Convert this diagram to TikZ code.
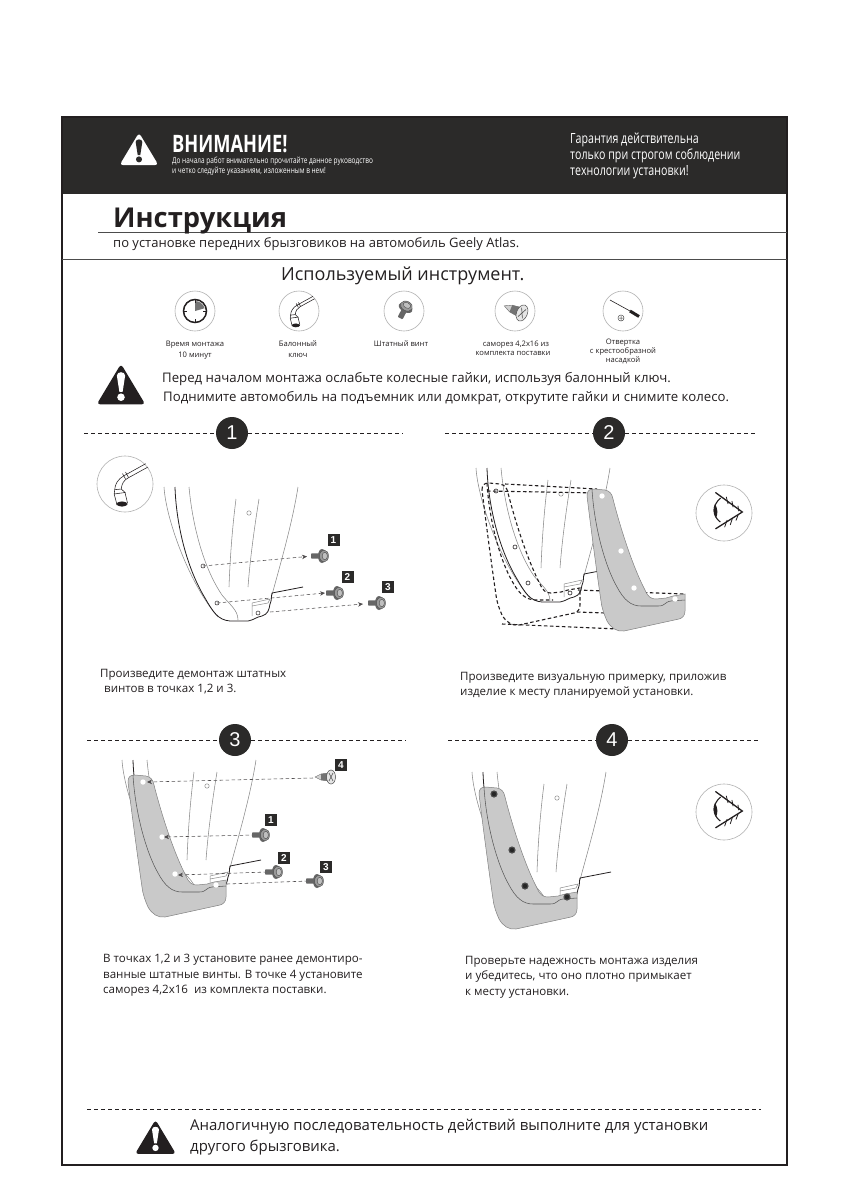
\documentclass[tikz,border=0pt]{standalone}
\usepackage{fontspec}
\usetikzlibrary{arrows.meta}
\setmainfont{Open Sans}
\newfontfamily\condfont[FakeStretch=0.76]{Open Sans}
\newfontfamily\condbold[FakeStretch=0.76]{Open Sans Bold}
\newfontfamily\numfont{Liberation Sans}
\definecolor{ink}{HTML}{231F20}
\definecolor{band}{HTML}{2B2A29}
\definecolor{flapgray}{HTML}{C9C9C9}
\definecolor{thinline}{HTML}{8A8A8A}
\def\myflap{(128,782) .. controls (128,777) and (130,775) .. (135,775) -- (146,776) .. controls (151,777) and (153,780) .. (154,785) .. controls (163,820) and (175,855) .. (186,876) .. controls (189,883) and (192,885) .. (197,885) -- (207,884) .. controls (210,884) and (211,882) .. (214,882) -- (226,880) -- (226,897) .. controls (226,901) and (224,904) .. (220,905) -- (165,917) .. controls (158,918) and (152,914) .. (148,907) .. controls (145,900) and (143,895) .. (142,887) .. controls (138,860) and (132,815) .. (128,782) -- cycle}
\tikzset{
  x=1pt,y=-1pt,
  txt/.style={anchor=base west,inner sep=0pt,text=ink},
  ctxt/.style={anchor=base,inner sep=0pt,text=ink},
  stepdot/.style={circle,fill=band,text=white,minimum size=32pt,inner sep=0pt,font=\numfont\fontsize{20}{20}\selectfont},
  sepdash/.style={draw=ink,line width=.9pt,dash pattern=on 4pt off 3pt},
  guide/.style={draw=ink!80,line width=.55pt,dash pattern=on 3.5pt off 2.5pt,-{Stealth[length=5pt,width=4.5pt]}},
  guideplain/.style={draw=ink!80,line width=.55pt,dash pattern=on 3.5pt off 2.5pt},
  fitdash/.style={draw=ink,line width=1.1pt,dash pattern=on 3.5pt off 2.5pt},
  ring/.style={circle,draw=black!30,line width=.6pt,minimum size=40pt,inner sep=0pt},
  bigring/.style={circle,draw=black!30,line width=.6pt,minimum size=56pt,inner sep=0pt},
  numtag/.style={fill=band,text=white,minimum size=12pt,inner sep=0pt,font=\numfont\bfseries\fontsize{10}{10}\selectfont},
  pics/fender/.style={code={
    \draw[thinline,line width=.55pt] (164,487) .. controls (166,520) and (190,585) .. (218,617);
    \draw[thinline,line width=.55pt] (189,487) .. controls (193,530) and (205,570) .. (222,595) .. controls (230,605) and (238,610) .. (238,620);
    \draw[thinline,line width=.55pt] (298,487) .. controls (292,525) and (280,565) .. (272,595);
    \draw[thinline,line width=.55pt] (236,499) .. controls (232,530) and (230,560) .. (229,587);
    \draw[thinline,line width=.55pt] (259,499) .. controls (254,530) and (250,560) .. (248,587);
    \draw[thinline,line width=.5pt] (249,513) circle[radius=2.2];
    \draw[thinline,line width=.5pt] (252,616) -- (252,603) -- (270,599) -- (268,603) -- (252,606);
    \draw[ink,line width=.8pt,line join=round] (175,487) .. controls (176,520) and (185,565) .. (205,598) .. controls (213,612) and (218,620) .. (230,621) -- (248,621) .. controls (254,620) and (256,617) .. (262,616) .. controls (268,614) and (269,610) .. (270,604) .. controls (272,600) and (271,597) .. (272,593) -- (303,587);
  }},
  pics/flap/.style={code={
    \fill[flapgray] \myflap;
    \draw[black!50,line width=.5pt] \myflap;
    \draw[black!65,line width=.55pt] (133,775) .. controls (135,810) and (145,850) .. (158,873) .. controls (165,886) and (172,892) .. (182,892) -- (199,892) .. controls (207,892) and (205,888) .. (212,887) -- (226,886);
  }},
  pics/flapholes/.style={code={
    \foreach \px/\py in {143/782,162/837,175/874,216/885}
      \fill[white] (\px,\py) circle[radius=2.7];
  }},
  pics/bolt/.style={code={
    \fill[black!60,rounded corners=.8pt] (-12,-2.6) rectangle (-3,2.6);
    \fill[black!60] (-1,0) ellipse[x radius=4,y radius=7];
    \draw[black!70,fill=black!40,line width=.4pt] (1,0) ellipse[x radius=4.5,y radius=6];
    \draw[black!70,fill=black!25,line width=.4pt] (1.8,0) ellipse[x radius=2.6,y radius=3.8];
  }},
  pics/screw/.style={code={
    \draw[black!60,fill=black!18,line width=.4pt] (-16,0) -- (-10,-3) -- (-2,-4) -- (-2,4) -- (-10,3) -- cycle;
    \fill[black!55] (-10,-3) -- (-3,-4) -- (-3,4) -- (-10,3) -- cycle;
    \draw[black!70,fill=black!10,line width=.5pt] (0,0) ellipse[x radius=4.5,y radius=7];
    \draw[black!70,line width=.6pt] (-2,-4) -- (2,4) (2,-4) -- (-2,4);
  }},
  pics/wrench/.style={code={
    \draw[ink,line width=.55pt,line join=round] (20.7,-20.3) -- (-1,-8.3) .. controls (-7,-5) and (-10,0) .. (-10.3,5.7);
    \draw[ink,line width=.55pt,line join=round] (23,-17) -- (3,-6) .. controls (-1,-4) and (-3.5,0) .. (-3.7,5);
    \draw[ink,line width=.55pt] (-2.5,-10.5) -- (0.5,-5) (.5,-12) -- (3.5,-6.5);
    \draw[ink,line width=.55pt] (-10.3,5.7) -- (-3.7,5) (-10.8,10) -- (0,8.5) -- (-3.7,5) (-10.8,10) -- (-10.3,5.7);
    \draw[ink,line width=.55pt] (-10.8,10) -- (-8,21) (0,8.5) -- (2.5,19);
    \draw[ink,fill=ink,line width=.4pt] (-3,20) ellipse[x radius=5.3,y radius=2.3];
  }},
  pics/eye/.style={code={
    \draw[ink,line width=1.3pt,line cap=round] (-8.3,-20.3) -- (18.3,-1) -- (-8.3,15.7);
    \draw[ink,line width=1.1pt] (-3.3,-15) .. controls (-12,-8) and (-12,3) .. (-3.7,9);
    \fill[ink] (-9,-9) .. controls (-6,-4) and (-6,1) .. (-8,5) .. controls (-11,0) and (-11,-5) .. (-9,-9) -- cycle;
    \draw[ink,line width=.8pt,line cap=round] (2.3,-16) -- (4,-9.3) (8,-11.7) -- (9,-6) (14,-7) -- (14.7,-2);
    \draw[ink,line width=.8pt,line cap=round] (.7,14) -- (3,7.3) (6.3,11.7) -- (8.3,5.7) (12,7.3) -- (14,2.3);
  }},
  pics/warn/.style 2 args={code={
    \fill[#1,rounded corners=3.5pt] (0,-24) -- (27,21) -- (-27,21) -- cycle;
    \fill[#2] (-4.6,-11) .. controls (-4.6,-16) and (4.6,-16) .. (4.6,-11) -- (1.8,7) -- (-1.8,7) -- cycle;
    \fill[#2] (0,13) circle[radius=4.2];
  }},
}
\begin{document}
\begin{tikzpicture}
\useasboundingbox (0,0) rectangle (848,1200);
\fill[white] (0,0) rectangle (848,1200);
% header band, frame, rules
\fill[band] (62,117) rectangle (787,194);
\draw[ink,line width=1.2pt] (62,117) rectangle (787,1165);
\draw[black!70,line width=1.2pt] (62,259.5) -- (787,259.5);
\draw[black!70,line width=1.1pt] (98,232.5) -- (787,232.5);
\pic[scale=.72] at (139,150) {warn={white}{band}};
\node[txt,text=white,font=\condbold\fontsize{24}{24}\selectfont] (vn) at (172,152) {ВНИМАНИЕ!};
\node[txt,text=white,font=\condfont\fontsize{8.5}{8}\selectfont] (vn1) at (172,163) {До начала работ внимательно прочитайте данное руководство};
\node[txt,text=white,font=\condfont\fontsize{8.5}{8}\selectfont] (vn2) at (172,173) {и четко следуйте указаниям, изложенным в нем!};
\node[txt,text=white,font=\condfont\fontsize{14}{14}\selectfont] (g1) at (570,143) {Гарантия действительна};
\node[txt,text=white,font=\condfont\fontsize{14}{14}\selectfont] (g2) at (570,159) {только при строгом соблюдении};
\node[txt,text=white,font=\condfont\fontsize{14}{14}\selectfont] (g3) at (570,175) {технологии установки!};
\node[txt,font=\bfseries\fontsize{27.3}{28}\selectfont] (ttl) at (113,227) {Инструкция};
\node[txt,font=\fontsize{13}{13}\selectfont] (sub) at (113,247) {по установке передних брызговиков на автомобиль Geely Atlas.};
\node[txt,font=\fontsize{18}{18}\selectfont] (tools) at (281,280) {Используемый инструмент.};
% tool rings
\node[ring] (t1) at (195,311) {};
\node[ring] (t2) at (299,311) {};
\node[ring] (t3) at (404,311) {};
\node[ring] (t4) at (515,311) {};
\node[ring] (t5) at (623,311) {};
\fill[black!55] (195,311) -- (195,301) arc[start angle=270,end angle=344,radius=10] -- cycle;
\draw[ink,line width=1.5pt] (195,311) circle[radius=11.5];
\draw[ink,line width=.8pt] (195,299.5) -- (195,303) (195,322.5) -- (195,319) (183.5,311) -- (187,311) (206.5,311) -- (203,311);
\pic[scale=.72] at (298,311) {wrench};
\pic[rotate=62,scale=1.05] at (406,307) {bolt};
\pic[rotate=-22,scale=1.2] at (522,313) {screw};
\draw[ink,line width=.6pt] (610,300) -- (630,311);
\draw[ink,line width=3pt] (630,311) -- (639,316.5);
\draw[black!70,line width=.5pt] (621,318) circle[radius=3] (619,318) -- (623,318) (621,316) -- (621,320);
% tool captions
\tikzset{toolcap/.style={ctxt,font=\fontsize{7.6}{8}\selectfont}}
\node[toolcap] (c1) at (195,346) {Время монтажа};
\node[toolcap] (c2) at (195,357) {10 минут};
\node[toolcap] (c3) at (298,346) {Балонный};
\node[toolcap] (c4) at (298,357) {ключ};
\node[toolcap] (c5) at (401,346) {Штатный винт};
\node[toolcap] (c6) at (516,346) {саморез 4,2х16 из};
\node[toolcap] (c7) at (513,355) {комплекта поставки};
\node[toolcap] (c8) at (623,344) {Отвертка};
\node[toolcap] (c9) at (623,353) {с крестообразной};
\node[toolcap] (c10) at (623,362) {насадкой};
% caution
\pic[scale=.9] at (121,385.5) {warn={ink}{white}};
\tikzset{lead/.style={txt,font=\fontsize{13.2}{13}\selectfont}}
\node[lead] (w1) at (162,382) {Перед началом монтажа ослабьте колесные гайки, используя балонный ключ.};
\node[lead] (w2) at (163,401) {Поднимите автомобиль на подъемник или домкрат, открутите гайки и снимите колесо.};
% step separators
\coordinate (l1) at (84,433); \coordinate (r1) at (403,433);
\coordinate (l2) at (445,433); \coordinate (r2) at (755,433);
\coordinate (l3) at (87,740); \coordinate (r3) at (406,740);
\coordinate (l4) at (448,740); \coordinate (r4) at (759,740);
\coordinate (lb) at (87,1109); \coordinate (rb) at (761,1109);
\node[stepdot] (s1) at (232,433) {1};
\node[stepdot] (s2) at (609,433) {2};
\node[stepdot] (s3) at (235,740) {3};
\node[stepdot] (s4) at (612,740) {4};
\draw[sepdash] (l1) -- (s1); \draw[sepdash] (s1) -- (r1);
\draw[sepdash] (l2) -- (s2); \draw[sepdash] (s2) -- (r2);
\draw[sepdash] (l3) -- (s3); \draw[sepdash] (s3) -- (r3);
\draw[sepdash] (l4) -- (s4); \draw[sepdash] (s4) -- (r4);
\draw[sepdash] (lb) -- (rb);
% panel 1
\node[bigring] (wr) at (125,484) {};
\pic at (125,484) {wrench};
\pic at (0,0) {fender};
\coordinate (ha) at (203,566); \coordinate (hb) at (217,603); \coordinate (hc) at (258,613);
\draw[ink,line width=.5pt] (ha) circle[radius=2];
\draw[ink,line width=.5pt] (hb) circle[radius=2];
\draw[ink,line width=.5pt] (hc) circle[radius=2];
\coordinate (hc2) at (270,612);
\coordinate (ea) at (307,556.5); \coordinate (eb) at (325,593); \coordinate (ec) at (363,604);
\draw[guide] (ha) -- (ea);
\draw[guide] (hb) -- (eb);
\draw[guide] (hc2) -- (ec);
\pic at (323,556) {bolt};
\pic at (338,593) {bolt};
\pic at (380,603) {bolt};
\node[numtag] (ta1) at (333.5,540) {1};
\node[numtag] (ta2) at (347.5,577) {2};
\node[numtag] (ta3) at (388,587) {3};
\tikzset{body/.style={txt,font=\fontsize{11.55}{12}\selectfont}}
\node[body] (p1a) at (100,677) {Произведите демонтаж штатных};
\node[body] (p1b) at (104,692) {винтов в точках 1,2 и 3.};
% panel 2
\pic at (312,-19) {fender};
\begin{scope}[shift={(354,-292)}]
  \draw[fitdash] \myflap;
  \draw[fitdash] (133,775) .. controls (135,810) and (145,850) .. (158,873) .. controls (165,886) and (172,892) .. (182,892) -- (199,892);
  \foreach \px/\py in {142/783,161/839,174/875,216/885}
    \draw[ink,line width=.6pt] (\px,\py) circle[radius=2];
\end{scope}
\coordinate (da) at (505,484); \coordinate (db) at (597,489);
\coordinate (dc) at (487,491); \coordinate (dd) at (597,493);
\coordinate (de) at (578,590); \coordinate (df) at (684,594);
\coordinate (di) at (502,624); \coordinate (dj) at (618,629);
\coordinate (dk) at (577,612); \coordinate (dl) at (605,613);
\draw[fitdash] (da) -- (db); \draw[fitdash] (dc) -- (dd);
\draw[fitdash] (de) -- (df);
\draw[fitdash] (di) -- (dj); \draw[fitdash] (dk) -- (dl);
\pic at (459,-286) {flap};
\pic at (459,-286) {flapholes};
\node[bigring] (eye1) at (724,513) {};
\pic at (724,513) {eye};
\node[body] (p2a) at (460,680) {Произведите визуальную примерку, приложив};
\node[body] (p2b) at (460,695) {изделие к месту планируемой установки.};
% panel 3
\pic at (-42,273) {fender};
\pic at (0,0) {flap};
\pic at (0,0) {flapholes};
\coordinate (ga) at (147,782); \coordinate (gb) at (164,837); \coordinate (gc) at (178,875); \coordinate (gd) at (227,884);
\coordinate (fa) at (313,778); \coordinate (fb) at (255,835); \coordinate (fc) at (267,872); \coordinate (fd) at (308,881);
\draw[guide] (fa) -- (ga);
\draw[guide] (fb) -- (gb);
\draw[guide] (fc) -- (gc);
\draw[guideplain] (fd) -- (gd);
\pic at (331,777) {screw};
\pic at (264,835) {bolt};
\pic at (277,872) {bolt};
\pic at (318,881) {bolt};
\node[numtag] (tb4) at (341,765) {4};
\node[numtag] (tb1) at (271,820) {1};
\node[numtag] (tb2) at (284,858) {2};
\node[numtag] (tb3) at (326,867) {3};
\node[body] (p3a) at (103,962) {В точках 1,2 и 3 установите ранее демонтиро-};
\node[body] (p3b) at (103,978) {ванные штатные винты. В точке 4 установите};
\node[body] (p3c) at (103,993) {саморез 4,2х16\ \ из комплекта поставки.};
% panel 4
\pic at (308,285) {fender};
\pic at (351,12) {flap};
\foreach \px/\py in {494/794,512/850,525/886,567/897}{
  \fill[black!70] (\px,\py) circle[radius=3.6];
  \fill[black!85] (\px,\py) circle[radius=2.2];
}
\node[bigring] (eye2) at (724,812) {};
\pic at (724,812) {eye};
\node[body] (p4a) at (465,964) {Проверьте надежность монтажа изделия};
\node[body] (p4b) at (465,979) {и убедитесь, что оно плотно примыкает};
\node[body] (p4c) at (465,995) {к месту установки.};
% closing note
\pic[scale=.76] at (155.5,1138) {warn={ink}{white}};
\tikzset{lastline/.style={txt,font=\fontsize{14.95}{15}\selectfont}}
\node[lastline] (n1) at (190,1130) {Аналогичную последовательность действий выполните для установки};
\node[lastline] (n2) at (190,1151) {другого брызговика.};
\end{tikzpicture}
\end{document}
